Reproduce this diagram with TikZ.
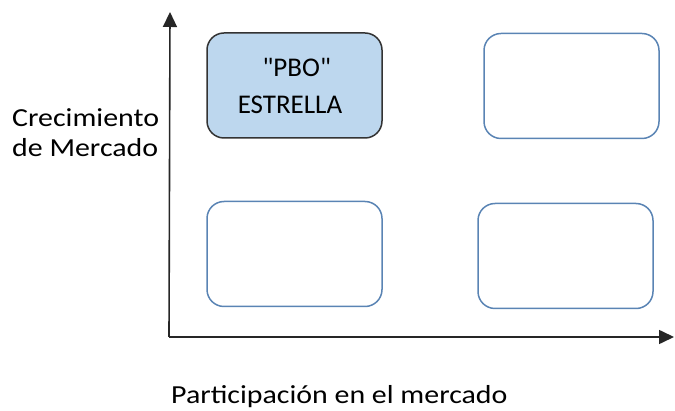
\documentclass[tikz,border=0pt]{standalone}
\usepackage{fontspec}
\setmainfont{Carlito}
\newfontfamily\widefont{Carlito}[FakeStretch=1.15]
\usetikzlibrary{arrows.meta}
\definecolor{starfill}{HTML}{BDD7EE}
\definecolor{quadline}{HTML}{5A84B4}
\tikzset{
  quad/.style={draw=quadline, line width=1.5pt, rounded corners=17pt,
    minimum width=175pt, minimum height=105pt, inner sep=0pt, align=center},
  axis/.style={line width=1.6pt, draw=black!85,
    -{Triangle[length=15pt,width=14pt]}},
  lbl/.style={font=\widefont\fontsize{26}{30}\selectfont, inner sep=0pt}
}
\begin{document}
\begin{tikzpicture}[x=1pt,y=-1pt]
    \useasboundingbox (0,0) rectangle (675,411);

    % axes
    \coordinate (o) at (169,337);
    \coordinate (ytip) at (170,12);
    \coordinate (xtip) at (674,337);
    \draw[axis] (o) -- (ytip);
    \draw[axis] (o) -- (xtip);

    % quadrants
    \node[quad, draw=black!80, fill=starfill,
      font=\fontsize{27}{37}\selectfont] (star) at (294.5,85.5)
      {\,\textquotedbl PBO\textquotedbl\\ESTRELLA\,\,};
    \node[quad] (topright) at (571.5,86) {};
    \node[quad] (botleft) at (294.5,254) {};
    \node[quad] (botright) at (565.5,256) {};

    % labels
    \node[lbl, anchor=base west, align=left] (growth) at (12,157)
      {Crecimiento\\de Mercado};
    \node[lbl, anchor=base west] (share) at (171,403.5)
      {Participación en el mercado};
\end{tikzpicture}
\end{document}
